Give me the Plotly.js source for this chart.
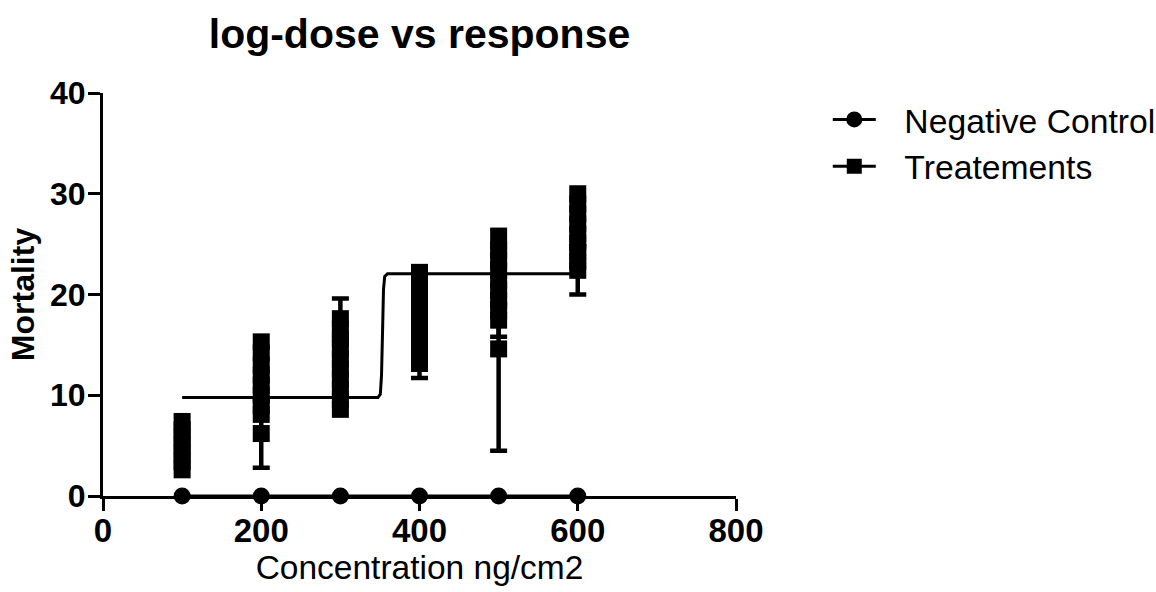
<!DOCTYPE html>
<html><head><meta charset="utf-8">
<script src="https://cdn.plot.ly/plotly-3.0.1.min.js"></script>
<style>html,body{margin:0;padding:0;background:#fff}</style>
</head><body><div id="chart" style="width:1156px;height:592px"></div>
<script>
// Concentrations (ng/cm2)
const concentrations = [100, 200, 300, 400, 500, 600];
const negativeControl = [0, 0, 0, 0, 0, 0];
// Treatment replicate values per concentration
const treat100 = [2.6, 3.4, 4.2, 5.0, 5.8, 6.6, 7.4];
const treat200 = [8.1, 9.0, 10.0, 11.0, 12.0, 13.0, 14.2, 15.3];
const treat300 = [8.6, 9.6, 10.6, 11.6, 12.6, 13.6, 14.6, 15.6, 16.6];
const treat400 = [14.1, 15.1, 16.1, 17.1, 18.1, 19.1, 20.1, 21.1, 22.2];
const treat500 = [18.4, 19.4, 20.4, 21.4, 22.4, 23.4, 24.4, 25.8];
const treat600 = [23.3, 24.2, 25.1, 26.0, 27.0, 28.0, 29.0, 30.0];
// Treatment points carrying SD error bars
const errX = [200, 300, 400, 500, 500, 600];
const errY = [6.2, 17.6, 13.15, 14.6, 17.45, 22.4];
const errSD = [3.4, 2.0, 1.45, 10.1, 1.65, 2.4];
// Fitted dose-response curve
const fitX = [100, 347.5, 350.5, 352, 353.5, 354.5, 356, 359.5, 600];
const fitY = [9.77, 9.77, 10.1, 12, 17, 20.5, 21.8, 22.05, 22.05];
// Legend labels
const seriesNames = ['Negative Control', 'Treatements'];

const groups = [treat100, treat200, treat300, treat400, treat500, treat600];
const tx = [], ty = [];
groups.forEach((g, i) => g.forEach(v => { tx.push(concentrations[i]); ty.push(v); }));

const FONT = 'Liberation Sans, Arial, sans-serif';
const sq = {symbol: 'square', size: 17, color: '#000', line: {width: 0}};
const pad = '\u2002\u2009';

const traces = [
  {x: fitX, y: fitY, mode: 'lines', line: {color: '#000', width: 3}, showlegend: false, hoverinfo: 'skip'},
  {x: concentrations, y: negativeControl, name: pad + seriesNames[0], mode: 'lines+markers',
   line: {color: '#000', width: 3}, marker: {symbol: 'circle', size: 17, color: '#000'}, cliponaxis: false},
  {x: [null], y: [null], name: pad + seriesNames[1], mode: 'lines+markers',
   line: {color: '#000', width: 3}, marker: {symbol: 'square', size: 15, color: '#000'}},
  {x: tx, y: ty, mode: 'markers', marker: sq, showlegend: false, cliponaxis: false},
  {x: errX, y: errY, mode: 'markers', marker: sq, showlegend: false, cliponaxis: false,
   error_y: {type: 'data', array: errSD, visible: true, color: '#000', thickness: 4.5, width: 8.5}}
];

const layout = {
  width: 1156, height: 592,
  margin: {l: 103, r: 420, t: 93, b: 96, pad: 0, autoexpand: false},
  paper_bgcolor: '#fff', plot_bgcolor: '#fff',
  font: {family: FONT, color: '#000'},
  title: {text: 'log-dose vs response', font: {family: FONT, size: 41, weight: 'bold', color: '#000'},
          xref: 'paper', x: 0.5, xanchor: 'center', yref: 'container', y: 0.944, yanchor: 'middle'},
  xaxis: {range: [0, 800], dtick: 200, tick0: 0, showgrid: false, zeroline: false,
          showline: true, linewidth: 3, linecolor: '#000', ticks: 'outside', ticklen: 12, tickwidth: 3, tickcolor: '#000',
          ticklabelstandoff: -9,
          tickfont: {family: FONT, size: 33, weight: 'bold', color: '#000'},
          title: {text: 'Concentration ng/cm2', font: {family: FONT, size: 33.5, color: '#000'}, standoff: 1}},
  yaxis: {range: [0, 40], dtick: 10, tick0: 0, showgrid: false, zeroline: false,
          showline: true, linewidth: 3, linecolor: '#000', ticks: 'outside', ticklen: 12, tickwidth: 3, tickcolor: '#000',
          ticklabelstandoff: -4,
          tickfont: {family: FONT, size: 32, weight: 'bold', color: '#000'},
          title: {text: 'Mortality', font: {family: FONT, size: 32, weight: 'bold', color: '#000'}, standoff: 6}},
  legend: {x: 1.145, xanchor: 'left', y: 1.005, yanchor: 'top', font: {family: FONT, size: 33.7, color: '#000'},
           bgcolor: 'rgba(0,0,0,0)', itemwidth: 43, tracegroupgap: 0},
  showlegend: true
};

Plotly.newPlot('chart', traces, layout, {displayModeBar: false, staticPlot: true});
</script>
</body></html>
